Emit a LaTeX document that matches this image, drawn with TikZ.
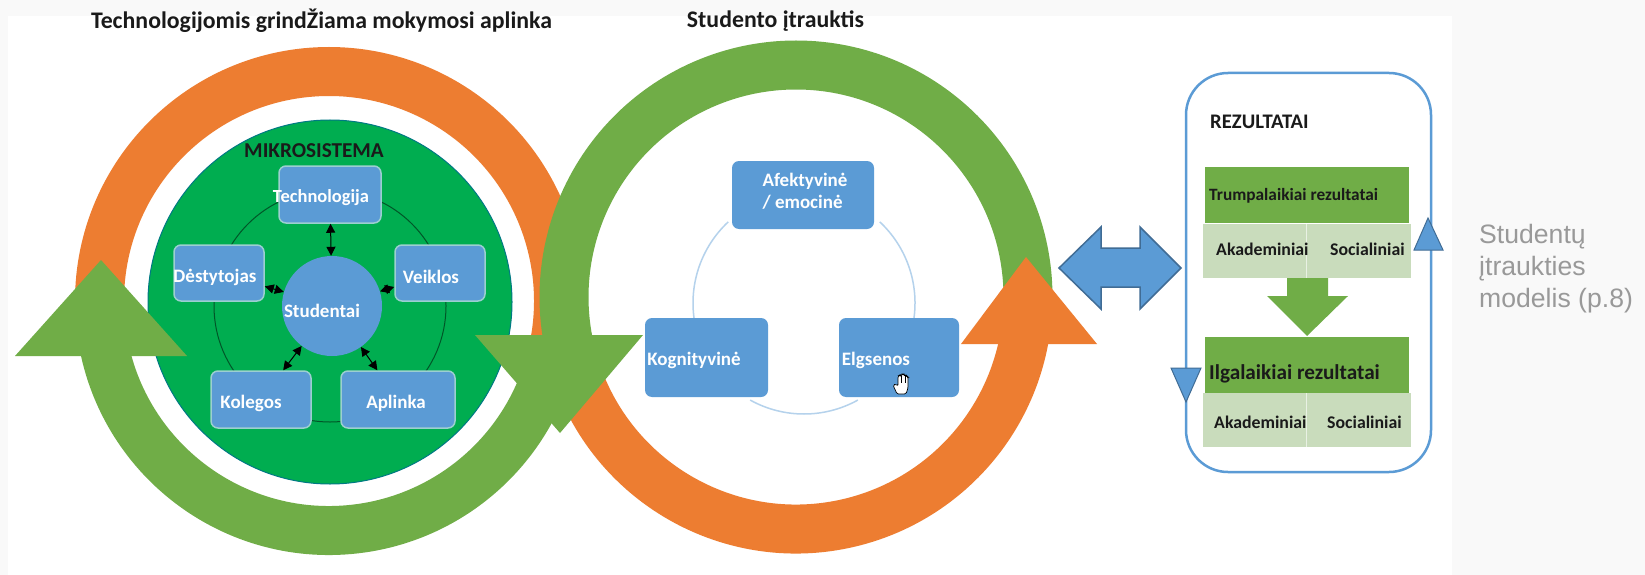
\documentclass[tikz,border=0pt]{standalone}
\usepackage{fontspec}
\setmainfont{Carlito}
\newfontfamily\captionfont{Liberation Sans}
\usepackage{tikz}
\usetikzlibrary{arrows.meta}

\definecolor{ringorange}{HTML}{ED7D31}
\definecolor{ringgreen}{HTML}{70AD47}
\definecolor{diskgreen}{HTML}{00AD50}
\definecolor{boxblue}{HTML}{5B9BD5}
\definecolor{boxedge}{HTML}{9CCFD0}
\definecolor{rowgreen}{HTML}{C9DCBC}
\definecolor{pagegrey}{HTML}{F9F9F9}
\definecolor{inkdark}{HTML}{1A1A1A}

\tikzset{
    ring/.style={line width=49pt},
    blueline/.style={draw=boxblue, line width=2.5pt},
    bluebox/.style={fill=boxblue, rounded corners=7pt, inner sep=0pt},
    micbox/.style={bluebox, draw=boxedge, line width=1.5pt},
    lbl/.style={font=\bfseries\fontsize{19}{22}\selectfont, inner sep=0pt},
    whitelbl/.style={lbl, text=white},
    darklbl/.style={lbl, text=inkdark},
    rowlbl/.style={darklbl, font=\bfseries\fontsize{17.8}{20}\selectfont},
    titlelbl/.style={darklbl, font=\bfseries\fontsize{23.8}{26}\selectfont},
    link/.style={{Triangle[length=9pt,width=9pt]}-{Triangle[length=9pt,width=9pt]}, line width=1pt, draw=black},
}

\begin{document}
\begin{tikzpicture}[x=1pt, y=-1pt]
    \coordinate (leftring) at (329,301);
    \coordinate (rightring) at (796,297);
    \coordinate (micro) at (330,302);
    \coordinate (engage) at (804,303);

    \useasboundingbox (0,0) rectangle (1645,575);
    \fill[pagegrey] (0,0) rectangle (1645,575);
    \fill[white] (8,16) rectangle (1452,575);

    % rings
    \draw[ring, ringorange] (leftring)++(180:229.5) arc[start angle=180, end angle=380, radius=229.5];
    \draw[ring, ringorange] (rightring)++(165:232) arc[start angle=165, end angle=8, radius=232];
    \draw[ring, ringgreen] (rightring)++(0:232) arc[start angle=360, end angle=169, radius=232];
    \draw[ring, ringgreen] (leftring)++(172:229.5) arc[start angle=172, end angle=22, radius=229.5];

    \draw[fill=diskgreen, draw=diskgreen!70!blue, line width=1pt] (micro) circle (182);
    \draw[black!50!diskgreen, line width=1pt] (330,306) circle (116);

    \fill[ringgreen] (15,356) -- (101,260) -- (187,356) -- cycle;
    \fill[ringgreen] (475,335) -- (643,335) -- (560,433) -- cycle;
    \fill[ringorange] (961,344) -- (1026,257) -- (1097,344) -- cycle;

    \node[micbox, minimum width=102pt, minimum height=57pt] (technologija) at (330,194.5) {};
    \node[micbox, minimum width=90pt, minimum height=56pt] (destytojas) at (219,273) {};
    \node[micbox, minimum width=90pt, minimum height=56pt] (veiklos) at (440,273) {};
    \node[micbox, minimum width=100pt, minimum height=57pt] (kolegos) at (261,399.5) {};
    \node[micbox, minimum width=114pt, minimum height=57pt] (aplinka) at (398,399.5) {};
    \node[fill=boxblue, circle, minimum size=100pt, inner sep=0pt] (studentai) at (332,306) {};

    \draw[link] (technologija) -- (studentai);
    \draw[link] (destytojas) -- (studentai);
    \draw[link] (veiklos) -- (studentai);
    \draw[link] (kolegos) -- (studentai);
    \draw[link] (aplinka) -- (studentai);

    \node[darklbl, font=\bfseries\fontsize{21.2}{24}\selectfont] (mikrosistema) at (314,151) {MIKROSISTEMA};
    \node[whitelbl, font=\bfseries\fontsize{18.5}{22}\selectfont] (technologijatxt) at (321,198) {Technologija};
    \node[whitelbl] (destytojastxt) at (215,277) {Dėstytojas};
    \node[whitelbl] (veiklostxt) at (431,277) {Veiklos};
    \node[whitelbl] (studentaitxt) at (322,311) {Studentai};
    \node[whitelbl] (kolegostxt) at (251,403) {Kolegos};
    \node[whitelbl] (aplinkatxt) at (396,403) {Aplinka};

    % engagement
    \draw[boxblue!45!white, line width=1.5pt] (engage)++(61:111) arc[start angle=61, end angle=119, radius=111];
    \draw[boxblue!45!white, line width=1.5pt] (engage)++(172:111) arc[start angle=172, end angle=227, radius=111];
    \draw[boxblue!45!white, line width=1.5pt] (engage)++(313:111) arc[start angle=313, end angle=368, radius=111];

    \node[bluebox, minimum width=142pt, minimum height=68pt] (afektyvine) at (803,195) {};
    \node[bluebox, minimum width=123pt, minimum height=79pt] (kognityvine) at (706.5,357.5) {};
    \node[bluebox, minimum width=120pt, minimum height=79pt] (elgsenos) at (899,357.5) {};

    \node[whitelbl, align=left] (afektyvinetxt) at (805,191.5) {Afektyvinė\\/ emocinė};
    \node[whitelbl] (kognityvinetxt) at (694,360) {Kognityvinė};
    \node[whitelbl] (elgsenostxt) at (876,360) {Elgsenos};

    % cursor
    \draw[fill=white, line width=0.7pt, rounded corners=1.5pt] (897,394) -- (893,385) -- (896,384) -- (898,386) -- (898,376) -- (900,375) -- (901,376) -- (902,374) -- (904,374) -- (905,376) -- (907,376) -- (908,377) -- (908,388) -- (906,394) -- cycle;
    \draw[line width=0.5pt] (901,376) -- ++(0,7);
    \draw[line width=0.5pt] (905,376) -- ++(0,7);

    % double arrow
    \draw[fill=boxblue, draw=boxblue!70!black, line width=1.5pt] (1059,268) -- (1101,227) -- (1101,248) -- (1140,248) -- (1140,227) -- (1181,268) -- (1140,309) -- (1140,287) -- (1101,287) -- (1101,309) -- cycle;

    % results
    \draw[blueline, rounded corners=42pt] (1186,73) rectangle (1431,472);

    \node[darklbl, font=\bfseries\fontsize{20.7}{24}\selectfont, anchor=west] (rezultatai) at (1210,122) {REZULTATAI};

    \fill[ringgreen] (1205,167) rectangle (1409,223);
    \fill[rowgreen] (1203,224) rectangle (1411,278);
    \draw[rowgreen!40!white, line width=0.7pt] (1306,224) -- (1306,278);
    \node[darklbl, font=\bfseries\fontsize{17.3}{20}\selectfont, anchor=west] (trumpalaikiai) at (1209,196) {Trumpalaikiai rezultatai};
    \node[rowlbl, anchor=west] (akademiniaia) at (1216,249) {Akademiniai};
    \node[rowlbl, anchor=west] (socialiniaia) at (1330,249) {Socialiniai};

    \fill[ringgreen] (1287,278) -- (1328,278) -- (1328,296) -- (1348,296) -- (1307,336) -- (1267,296) -- (1287,296) -- cycle;

    \fill[ringgreen] (1205,337) rectangle (1409,393);
    \fill[rowgreen] (1203,393) rectangle (1411,447);
    \draw[rowgreen!40!white, line width=0.7pt] (1306,393) -- (1306,447);
    \node[darklbl, font=\bfseries\fontsize{21.2}{24}\selectfont, anchor=west] (ilgalaikiai) at (1209,374) {Ilgalaikiai rezultatai};
    \node[rowlbl, anchor=west] (akademiniaib) at (1214,422) {Akademiniai};
    \node[rowlbl, anchor=west] (socialiniaib) at (1327,422) {Socialiniai};

    \draw[fill=boxblue, draw=boxblue!70!black, line width=1pt] (1414,250) -- (1428,218) -- (1443,250) -- cycle;
    \draw[fill=boxblue, draw=boxblue!70!black, line width=1pt] (1171,368) -- (1201,368) -- (1186,402) -- cycle;

    % titles
    \node[titlelbl] (titleleft) at (321.5,21) {Technologijomis grindŽiama mokymosi aplinka};
    \node[titlelbl] (titleright) at (775.5,21) {Studento įtrauktis};

    \node[anchor=north west, align=left, text=black!40, inner sep=0pt, font=\captionfont\fontsize{26.6}{32}\selectfont] (caption) at (1479,224) {Studentų\\įtraukties\\modelis (p.8)};
\end{tikzpicture}
\end{document}
